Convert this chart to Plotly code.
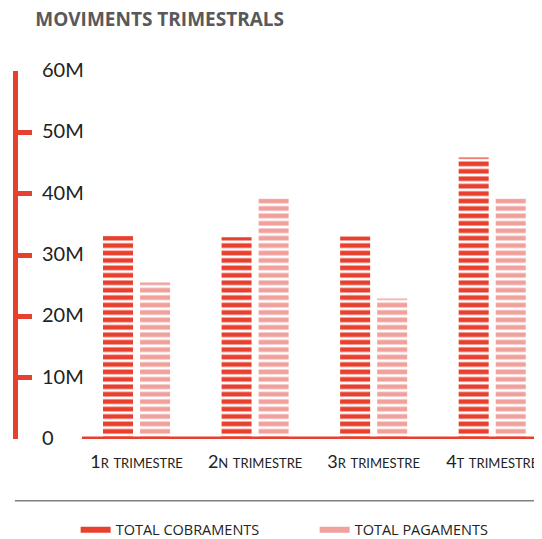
import plotly.graph_objects as go

# Colors
vermell = '#E7402F'
rosa = '#F0A19C'
gris = '#58595B'

# Data
trimestres = ['1r trimestre', '2n trimestre', '3r trimestre', '4t trimestre']
cobraments = [33.1, 32.9, 33.0, 45.9]
pagaments = [25.5, 39.2, 22.9, 39.2]
y_ticks = [0, 10, 20, 30, 40, 50, 60]
y_labels = ['0', '10M', '20M', '30M', '40M', '50M', '60M']

fig = go.Figure()

# Striped bars
for nom, valors, color in [('TOTAL COBRAMENTS', cobraments, vermell),
                           ('TOTAL PAGAMENTS', pagaments, rosa)]:
    fig.add_trace(go.Bar(
        x=trimestres, y=valors, name=nom, showlegend=False,
        marker=dict(
            color='rgba(0,0,0,0)',
            line=dict(width=0),
            pattern=dict(shape='-', fgcolor=color, bgcolor='rgba(0,0,0,0)',
                         fgopacity=1, size=7.43, solidity=0.63)
        ),
        hoverinfo='x+y'
    ))

# Legend entries (short thick dashes)
for nom, color in [('TOTAL COBRAMENTS', vermell), ('TOTAL PAGAMENTS', rosa)]:
    fig.add_trace(go.Scatter(x=[None], y=[None], mode='lines', name=nom,
                             line=dict(color=color, width=6)))

# the page body adds 8px around the figure, so the figure is 8px smaller
fig.update_layout(
    width=534, height=531,
    paper_bgcolor='white', plot_bgcolor='white',
    margin=dict(l=10, r=0, t=63, b=100, autoexpand=False),
    barmode='group', bargap=0.375, bargroupgap=0.19,
    title=dict(text='<b>MOVIMENTS TRIMESTRALS</b>', x=0.051, xanchor='left',
               y=0.979, yanchor='middle', xref='container', yref='container',
               font=dict(family='Open Sans', size=19, color=gris)),
    xaxis=dict(
        type='category', range=[-1.0, 3.42], automargin=False,
        showline=False, showgrid=False, zeroline=False, ticks='',
        ticklabelstandoff=10,
        tickfont=dict(family='Lato', size=18, color='#222222', variant='small-caps')
    ),
    yaxis=dict(
        range=[0, 60], tickvals=y_ticks, automargin=False,
        showline=True, linecolor=vermell, linewidth=5,
        ticks='inside', ticklen=14, tickwidth=5, tickcolor=vermell,
        showticklabels=False,
        showgrid=False, zeroline=False
    ),
    legend=dict(orientation='h', x=0.11, xanchor='left', y=-0.247, yanchor='middle',
                entrywidth=194, entrywidthmode='pixels',
                font=dict(family='Open Sans', size=14.5, color='#222222')),
    shapes=[
        # horizontal baseline
        dict(type='line', xref='paper', yref='y', x0=0.122, x1=1, y0=0, y1=0,
             line=dict(color=vermell, width=5), layer='above'),
        # separator above the legend
        dict(type='line', xref='paper', yref='paper', x0=-0.006, x1=1, y0=-0.168, y1=-0.168,
             line=dict(color='#808080', width=1.5))
    ]
)

# Y tick labels to the right of the axis
for val, txt in zip(y_ticks, y_labels):
    fig.add_annotation(x=0.042, xref='paper', xanchor='left', y=val, yref='y',
                       yanchor='middle', yshift=2, text=txt, showarrow=False,
                       font=dict(family='Lato', size=20, color='#222222'))

fig.write_html('out.html')
